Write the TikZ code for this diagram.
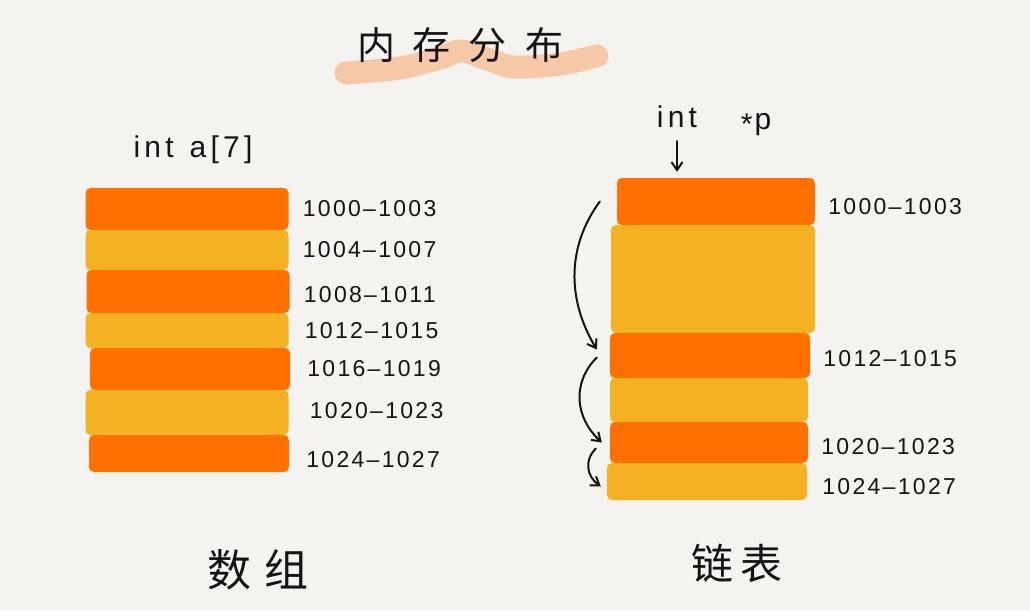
\documentclass[tikz,border=0pt]{standalone}
\usepackage{fontspec}
\setmainfont{Liberation Sans}
\newfontfamily\cjkfont{Noto Sans CJK SC}
\usetikzlibrary{positioning,arrows.meta}
\definecolor{bgpaper}{RGB}{245,243,239}
\definecolor{cellorange}{RGB}{255,112,0}
\definecolor{cellyellow}{RGB}{245,177,36}
\definecolor{brushpeach}{RGB}{246,200,168}
\definecolor{inkblack}{RGB}{20,20,20}

\begin{document}
\begin{tikzpicture}[
  x=1pt, y=-1pt,
  >={Straight Barb[length=8pt,width=11pt]},
  cellbox/.style={rectangle, rounded corners=5pt, inner sep=0pt, draw=none},
  oddcell/.style={cellbox, fill=cellorange},
  evencell/.style={cellbox, fill=cellyellow},
  addrlbl/.style={font=\fontsize{23}{25}\selectfont\addfontfeature{LetterSpace=10}, text=inkblack, inner sep=1pt},
  decllbl/.style={font=\fontsize{30}{32}\selectfont\addfontfeature{LetterSpace=14}, text=inkblack, inner sep=1pt},
  titlelbl/.style={font=\cjkfont\fontsize{38}{40}\selectfont, text=inkblack, inner sep=0pt},
  linkmap/.style={->, draw=inkblack, line width=2pt, line cap=round},
  brush/.style={draw=brushpeach, line width=23pt, line cap=round, line join=round}
]
  \fill[bgpaper] (0,0) rectangle (1030,610);

  % title with brush stroke
  \draw[brush] plot[smooth, tension=0.6] coordinates {(346,73) (400,68) (440,58) (462,51) (490,60) (515,67) (560,64) (597,56)};
  \node[titlelbl] (title) at (460,45) {内\hspace{18pt}存\hspace{18pt}分\hspace{18pt}布};

  % array: contiguous cells
  \node[decllbl] (decla) at (193,150) {int\hspace{16pt}a[7]};
  \node[oddcell, minimum width=203pt, minimum height=42pt] (a1) at (187,209) {};
  \node[evencell, minimum width=203pt, minimum height=40pt] (a2) at (187,250) {};
  \node[oddcell, minimum width=203pt, minimum height=43pt] (a3) at (188,291.5) {};
  \node[evencell, minimum width=203pt, minimum height=35pt] (a4) at (187,330.5) {};
  \node[oddcell, minimum width=200pt, minimum height=42pt] (a5) at (190,369) {};
  \node[evencell, minimum width=203pt, minimum height=45pt] (a6) at (187,412.5) {};
  \node[oddcell, minimum width=200pt, minimum height=37pt] (a7) at (189,453.5) {};
  \node[addrlbl, right=13pt of a1] (la1) {1000–1003};
  \node[addrlbl, right=13pt of a2] (la2) {1004–1007};
  \node[addrlbl, right=13pt of a3, yshift=-3pt] (la3) {1008–1011};
  \node[addrlbl, right=15pt of a4] (la4) {1012–1015};
  \node[addrlbl, right=16pt of a5] (la5) {1016–1019};
  \node[addrlbl, right=20pt of a6, yshift=2pt] (la6) {1020–1023};
  \node[addrlbl, right=16pt of a7, yshift=-6pt] (la7) {1024–1027};
  \node[titlelbl, font=\cjkfont\fontsize{44}{46}\selectfont] (capa) at (258,570) {数\hspace{14pt}组};

  % linked list: scattered cells
  \node[decllbl] (declint) at (677,117) {int};
  \node[decllbl] (declp) at (756,125) {\raisebox{-5pt}{*}\hspace{2pt}p};
  \node[oddcell, minimum width=198pt, minimum height=47pt] (r1) at (716,201.5) {};
  \node[evencell, minimum width=204pt, minimum height=108pt] (r2) at (713,279) {};
  \node[oddcell, minimum width=200pt, minimum height=45pt] (r3) at (710,355.5) {};
  \node[evencell, minimum width=198pt, minimum height=44pt] (r4) at (709,400) {};
  \node[oddcell, minimum width=198pt, minimum height=41pt] (r5) at (709,442.5) {};
  \node[evencell, minimum width=200pt, minimum height=37pt] (r6) at (707,481.5) {};
  \node[addrlbl, right=12pt of r1, yshift=-5pt] (lr1) {1000–1003};
  \node[addrlbl, right=12pt of r3, yshift=-3pt] (lr3) {1012–1015};
  \node[addrlbl, right=12pt of r5, yshift=-4pt] (lr5) {1020–1023};
  \node[addrlbl, right=14pt of r6, yshift=-5pt] (lr6) {1024–1027};
  \draw[linkmap, shorten <=12pt, shorten >=6pt] (declint.south) -- (declint.south |- r1.north);
  \draw[linkmap] ([xshift=-17pt]r1.west) .. controls +(-33,45) and +(-30,-50) .. ([xshift=-13pt,yshift=6pt]r3.west);
  \draw[linkmap] ([xshift=-13pt,yshift=-2pt]r3.west) .. controls +(-25,25) and +(-27,-25) .. ([xshift=-8pt]r5.west);
  \draw[linkmap] ([xshift=-14pt,yshift=-6pt]r5.west) .. controls +(-12,12) and +(-14,-10) .. ([xshift=-6pt,yshift=-5pt]r6.west);
  \node[titlelbl, font=\cjkfont\fontsize{42}{44}\selectfont] (capl) at (737,563) {链\hspace{8pt}表};
\end{tikzpicture}
\end{document}
